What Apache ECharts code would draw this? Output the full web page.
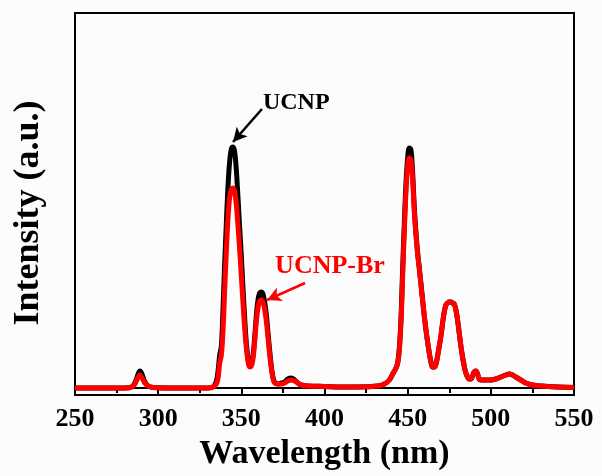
<!DOCTYPE html>
<html>
<head>
    <meta charset="utf-8">
    <title>UCNP emission</title>
    <script src="https://cdn.jsdelivr.net/npm/echarts@6/dist/echarts.min.js"></script>
    <style>
        html, body { margin: 0; padding: 0; background: #fcfcfc; }
        #main { width: 602px; height: 476px; }
    </style>
</head>
<body>
    <div id="main"></div>
    <script>
        // wavelength (nm), intensity (a.u.)
        const ucnp = [
            [250, 0], [270, 0], [280, 0], [284, 1], [286, 5], [288, 14], [289, 17], [290, 15], [292, 6], [294, 2], [297, 0.5],
            [310, 0], [320, 0], [330, 0], [333, 1], [335, 7], [336, 17], [337, 33], [338, 42], [339, 80], [340, 125],
            [341, 165], [342, 202], [343, 227], [344, 239], [345, 241], [346, 236], [347, 218], [348, 190], [349, 160],
            [350, 132], [351, 100], [352, 70], [353, 45], [354, 30], [355, 23], [356, 24], [357, 32], [358, 50], [359, 72],
            [360, 88], [361, 95], [362, 96], [363, 94], [364, 86], [365, 74], [366, 56], [367, 38], [368, 22], [369, 11],
            [370, 6], [372, 4], [374, 5], [376, 6], [378, 9], [380, 10], [382, 8], [384, 5], [386, 3], [390, 2],
            [400, 1.5], [410, 1], [420, 1], [432, 2], [436, 4], [439, 8], [441, 14], [443, 20], [444, 25], [445, 40],
            [446, 70], [447, 120], [448, 165], [449, 205], [450, 230], [451, 240], [452, 238], [453, 215], [454, 180],
            [455, 155], [456, 135], [457, 120], [458, 104], [459, 88], [460, 72], [461, 58], [462, 46], [463, 35],
            [464, 26], [465, 21], [466, 21], [467, 24], [468, 32], [469, 42], [470, 52], [471, 65], [472, 76], [473, 83],
            [474, 85], [475, 86], [476, 86], [477, 85], [478, 84], [479, 78], [480, 68], [481, 55], [482, 42], [483, 31],
            [484, 22], [485, 15], [486, 11], [487, 9], [488, 9], [489, 12], [490, 16], [491, 17], [492, 14], [493, 9],
            [494, 8], [496, 8], [498, 8], [500, 8], [503, 9], [506, 11], [509, 13], [511, 14], [513, 13], [515, 11],
            [518, 8], [521, 5], [525, 3], [530, 2], [540, 1], [550, 0.5]
        ];

        const ucnpBr = [
            [250, 0], [270, 0], [280, 0], [284, 1], [286, 4], [288, 11], [289, 13], [290, 11], [292, 5], [294, 2], [297, 0.5],
            [310, 0], [320, 0], [330, 0], [333, 1], [335, 4], [336, 10], [337, 25], [338, 33], [339, 58], [340, 98],
            [341, 137], [342, 170], [343, 191], [344, 199], [345, 200], [346, 196], [347, 183], [348, 162], [349, 138],
            [350, 112], [351, 85], [352, 60], [353, 40], [354, 27], [355, 21], [356, 22], [357, 29], [358, 46], [359, 66],
            [360, 80], [361, 87], [362, 88], [363, 86], [364, 79], [365, 67], [366, 51], [367, 34], [368, 20], [369, 10],
            [370, 5], [372, 4], [374, 4], [376, 5], [378, 7], [380, 8], [382, 7], [384, 5], [386, 3], [390, 2],
            [400, 1.5], [410, 1], [420, 1], [432, 2], [436, 4], [439, 8], [441, 14], [443, 20], [444, 25], [445, 38],
            [446, 66], [447, 112], [448, 158], [449, 196], [450, 222], [451, 230], [452, 228], [453, 208], [454, 176],
            [455, 153], [456, 134], [457, 119], [458, 103], [459, 87], [460, 72], [461, 58], [462, 46], [463, 35],
            [464, 26], [465, 21], [466, 21], [467, 24], [468, 32], [469, 42], [470, 52], [471, 65], [472, 76], [473, 83],
            [474, 85], [475, 86], [476, 86], [477, 85], [478, 84], [479, 78], [480, 68], [481, 55], [482, 42], [483, 31],
            [484, 22], [485, 15], [486, 11], [487, 9], [488, 9], [489, 12], [490, 16], [491, 17], [492, 14], [493, 9],
            [494, 8], [496, 8], [498, 8], [500, 8], [503, 9], [506, 11], [509, 13], [511, 14], [513, 13], [515, 11],
            [518, 8], [521, 5], [525, 3], [530, 2], [540, 1], [550, 0.5]
        ];

        const xTicks = [250, 300, 350, 400, 450, 500, 550];

        // annotations: text anchor and arrow start/end, in data units
        const ucnpLabel = [363, 285];
        const ucnpArrow = [[362.4, 279], [345, 246]];
        const brLabel = [370.3, 122];
        const brArrow = [[388.3, 105], [365.5, 88]];

        const serif = "'Liberation Serif', 'DejaVu Serif', serif";

        function arrowLine(arr, color) {
            return {
                silent: true,
                symbol: ['none', 'arrow'],
                symbolSize: [11, 14],
                lineStyle: { color: color, width: 2.5, type: 'solid' },
                label: { show: false },
                data: [[{ coord: arr[0] }, { coord: arr[1] }]]
            };
        }

        function textPoint(pos, text, color, size) {
            return {
                silent: true,
                symbol: 'circle',
                symbolSize: 0,
                data: [{ coord: pos }],
                label: {
                    show: true,
                    position: 'right',
                    distance: 0,
                    formatter: text,
                    fontFamily: serif,
                    fontWeight: 'bold',
                    fontSize: size,
                    color: color
                }
            };
        }

        const chart = echarts.init(document.getElementById('main'));
        chart.setOption({
            backgroundColor: '#fcfcfc',
            animation: false,
            grid: {
                left: 75, right: 28, top: 13, bottom: 81,
                show: true, borderColor: '#000', borderWidth: 2
            },
            xAxis: {
                type: 'value',
                min: 250, max: 550, interval: 50,
                name: 'Wavelength (nm)',
                nameLocation: 'middle',
                nameGap: 36,
                nameTextStyle: { fontFamily: serif, fontWeight: 'bold', fontSize: 34, color: '#000' },
                axisLine: { show: true, lineStyle: { color: '#000', width: 2 } },
                axisTick: { show: true, inside: false, length: 6, lineStyle: { color: '#000', width: 2 } },
                minorTick: { show: true, splitNumber: 2, length: 5, lineStyle: { color: '#000', width: 2 } },
                axisLabel: {
                    margin: 11,
                    fontFamily: serif, fontWeight: 'bold', fontSize: 26, color: '#000',
                    formatter: v => xTicks.includes(v) ? String(v) : ''
                },
                splitLine: { show: false }
            },
            yAxis: {
                type: 'value',
                min: -7, max: 375,
                name: 'Intensity (a.u.)',
                nameLocation: 'middle',
                nameGap: 28,
                nameTextStyle: {
                    fontFamily: serif, fontWeight: 'bold', fontSize: 36, color: '#000',
                    padding: [0, 18, 0, 0]
                },
                axisLine: { show: true, lineStyle: { color: '#000', width: 2 } },
                axisTick: { show: false },
                axisLabel: { show: false },
                splitLine: { show: false }
            },
            series: [
                {
                    name: 'UCNP',
                    type: 'line',
                    data: ucnp,
                    smooth: 0.4,
                    showSymbol: false,
                    lineStyle: { color: '#000', width: 5 },
                    markLine: arrowLine(ucnpArrow, '#000'),
                    markPoint: textPoint(ucnpLabel, 'UCNP', '#000', 24)
                },
                {
                    name: 'UCNP-Br',
                    type: 'line',
                    data: ucnpBr,
                    smooth: 0.4,
                    showSymbol: false,
                    lineStyle: { color: '#ff0000', width: 5 },
                    markLine: arrowLine(brArrow, '#ff0000'),
                    markPoint: textPoint(brLabel, 'UCNP-Br', '#ff0000', 26)
                }
            ]
        });
    </script>
</body>
</html>
